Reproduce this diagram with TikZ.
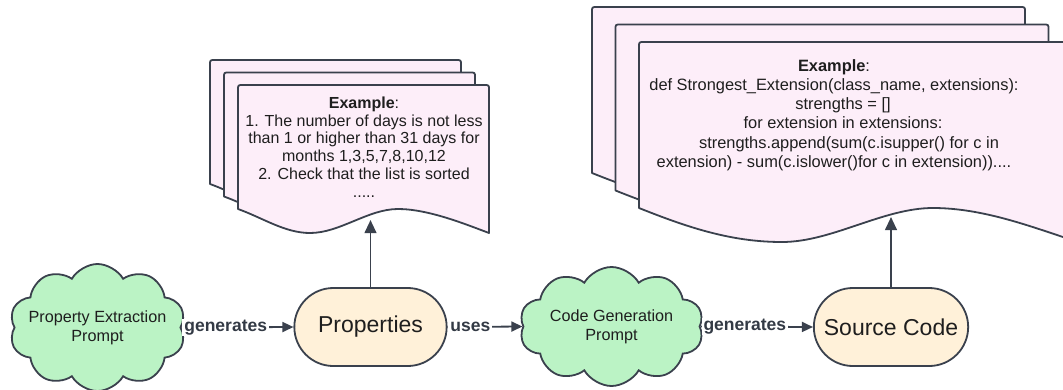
\documentclass[tikz,border=0pt]{standalone}
\usepackage{fontspec}
\setmainfont{Liberation Sans}
\usetikzlibrary{arrows.meta,shapes.symbols,shapes.misc}

\definecolor{ink}{HTML}{3A414D}
\definecolor{textc}{HTML}{1E1E1E}
\definecolor{labelc}{HTML}{333A45}
\definecolor{docpink}{HTML}{FDEEF9}
\definecolor{cloudgreen}{HTML}{BBF3C5}
\definecolor{cream}{HTML}{FFF1D9}

\begin{document}
\begin{tikzpicture}[x=1pt,y=-1pt,
  sheet/.style={draw=ink, line width=1.8pt, fill=docpink, line join=round},
  doctext/.style={align=center, text=textc, inner sep=0pt},
  cloudnode/.style={cloud, cloud puffs=10, cloud puff arc=120, cloud ignores aspect,
    draw=ink, line width=1.8pt, fill=cloudgreen, inner sep=0pt},
  cloudtext/.style={align=center, text=textc, inner sep=0pt,
    font=\fontsize{16.2}{19}\selectfont},
  stadium/.style={rounded rectangle, draw=ink, line width=1.8pt,
    fill=cream, minimum height=78pt, text=textc,
    font=\fontsize{23}{27}\selectfont},
  hedge/.style={draw=ink, line width=1.8pt, -{Triangle[length=11pt,width=10pt]}},
  vedge/.style={draw=ink, line width=1.2pt, -{Triangle[length=13pt,width=12pt]}},
  lbl/.style={fill=white, inner xsep=2pt, inner ysep=1pt, anchor=west, pos=0,
    text=labelc, font=\bfseries\fontsize{17.5}{20}\selectfont}
]
\useasboundingbox (0,0) rectangle (1063,389);

% stacked sheets holding the property examples
\foreach \s in {2,1,0}
  \draw[sheet, shift={({-14*\s},{-12.5*\s})}]
    (238,209) -- (238,90) .. controls (238,85) .. (243,85) -- (484,85)
    .. controls (489,85) .. (489,90) -- (489,233)
    .. controls (465,224) and (428,209) .. (398,209)
    .. controls (368,209) and (340,233) .. (310,233)
    .. controls (285,233) and (263,218) .. (238,209) -- cycle;
\node[doctext, font=\fontsize{16}{17.8}\selectfont] (propex) at (364,147)
  {\textbf{Example}:\\1. The number of days is not less\\than 1 or higher than 31 days for\\months 1,3,5,7,8,10,12\\2. Check that the list is sorted\\.....};

% stacked sheets holding the code example
\foreach \s in {2,1,0}
  \draw[sheet, shift={({-23.5*\s},{-17.5*\s})}]
    (639,208) -- (639,47) .. controls (639,42) .. (644,42) -- (1067,42)
    .. controls (1072,42) .. (1072,47) -- (1072,240)
    .. controls (1032,227) and (983,208) .. (933,208)
    .. controls (883,208) and (832,242) .. (782,242)
    .. controls (732,242) and (689,228) .. (639,208) -- cycle;
\node[doctext, font=\fontsize{16.4}{19.2}\selectfont] (codeex) at (834,115)
  {\textbf{Example}:\\def Strongest\_Extension(class\_name, extensions):\\\hspace*{18pt}strengths = []\\\hspace*{18pt}for extension in extensions:\\\hspace*{30pt}strengths.append(sum(c.isupper() for c in\\extension) - sum(c.islower()for c in extension))....};

% main flow
\node[cloudnode, minimum width=176pt, minimum height=127pt] (pep) at (97.5,327.5) {};
\node[cloudtext] (peptext) at (pep.center) {Property Extraction\\Prompt};
\node[stadium, minimum width=159pt] (prop) at (370.5,327) {Properties};
\node[cloudnode, minimum width=184pt, minimum height=119pt] (cgp) at (611.5,326.5) {};
\node[cloudtext] (cgptext) at (cgp.center) {Code Generation\\Prompt};
\node[stadium, minimum width=161pt] (src) at (891,327) {Source Code};

\draw[hedge] (pep.east) -- node[lbl] {generates} (prop.west);
\draw[hedge] (prop.east) -- node[lbl] {uses} (cgp.west);
\draw[hedge] (cgp.east) -- node[lbl] {generates} (src.west);

% links up to the example sheets
\path (prop.north) ++(0,-67) coordinate (propwave);
\path (src.north) ++(0,-70) coordinate (srcwave);
\draw[vedge] (prop.north) -- (propwave);
\draw[vedge] (src.north) -- (srcwave);
\end{tikzpicture}
\end{document}
